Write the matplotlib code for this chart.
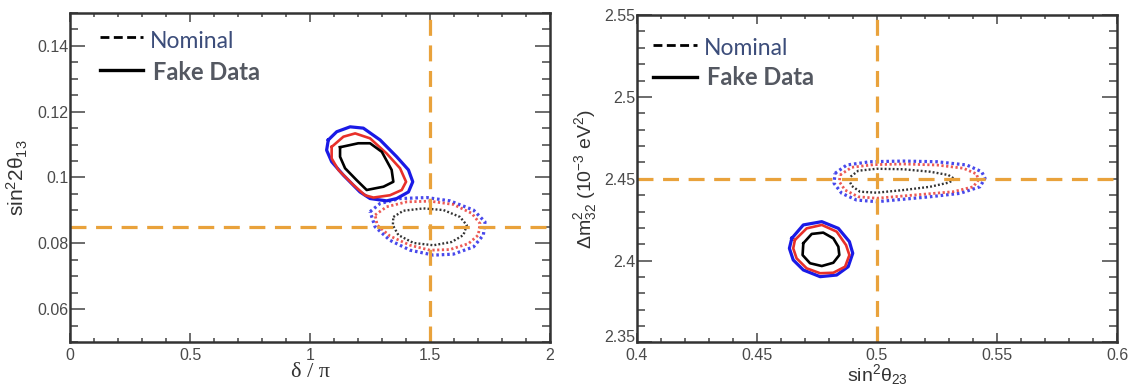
import numpy as np
import matplotlib.pyplot as plt
import matplotlib.transforms as mtransforms
from matplotlib.ticker import MultipleLocator

# true values (orange reference lines)
dcp_true, s13_true = 1.5, 0.085
s23_true, dm32_true = 0.5, 2.45

# --- left panel: delta/pi vs sin^2 2theta13 ---
fake_l_blue_x = [1.076, 1.111, 1.167, 1.222, 1.292, 1.361, 1.410, 1.428, 1.410, 1.361, 1.319, 1.250, 1.208, 1.139, 1.090, 1.069]
fake_l_blue_y = [0.1114, 0.1139, 0.1154, 0.1150, 0.1114, 0.1063, 0.1023, 0.0987, 0.0956, 0.0936, 0.0929, 0.0936, 0.0956, 0.1007, 0.1048, 0.1083]
fake_l_red_x = [1.090, 1.139, 1.188, 1.250, 1.319, 1.375, 1.400, 1.382, 1.333, 1.264, 1.229, 1.181, 1.118, 1.090]
fake_l_red_y = [0.1093, 0.1124, 0.1134, 0.1119, 0.1073, 0.1028, 0.0987, 0.0962, 0.0946, 0.0939, 0.0946, 0.0977, 0.1023, 0.1058]
fake_l_black_x = [1.125, 1.201, 1.250, 1.299, 1.340, 1.347, 1.306, 1.236, 1.194, 1.146, 1.125]
fake_l_black_y = [0.1092, 0.1104, 0.1104, 0.1078, 0.1023, 0.0987, 0.0972, 0.0962, 0.0992, 0.1028, 0.1063]

nom_l_blue_x = [1.250, 1.292, 1.375, 1.486, 1.583, 1.681, 1.729, 1.722, 1.681, 1.597, 1.514, 1.417, 1.333, 1.271]
nom_l_blue_y = [0.0896, 0.0921, 0.0936, 0.0939, 0.0929, 0.0901, 0.0865, 0.0825, 0.0789, 0.0767, 0.0764, 0.0779, 0.0809, 0.0850]
nom_l_red_x = [1.271, 1.319, 1.403, 1.500, 1.597, 1.674, 1.708, 1.701, 1.660, 1.583, 1.500, 1.417, 1.333, 1.280]
nom_l_red_y = [0.0886, 0.0911, 0.0926, 0.0928, 0.0918, 0.0891, 0.0860, 0.0825, 0.0799, 0.0781, 0.0779, 0.0794, 0.0822, 0.0855]
nom_l_black_x = [1.347, 1.389, 1.472, 1.556, 1.625, 1.653, 1.639, 1.590, 1.514, 1.431, 1.368, 1.345]
nom_l_black_y = [0.0880, 0.0899, 0.0906, 0.0901, 0.0880, 0.0855, 0.0825, 0.0804, 0.0794, 0.0801, 0.0825, 0.0855]

# --- right panel: sin^2 theta23 vs dm2_32 ---
fake_r_blue_x = [0.4645, 0.4693, 0.4770, 0.4839, 0.4885, 0.4899, 0.4880, 0.4832, 0.4763, 0.4693, 0.4651, 0.4635]
fake_r_blue_y = [2.4136, 2.4218, 2.4238, 2.4197, 2.4116, 2.4045, 2.3963, 2.3912, 2.3902, 2.3943, 2.4004, 2.4075]
fake_r_red_x = [0.4658, 0.4707, 0.4770, 0.4832, 0.4871, 0.4885, 0.4867, 0.4818, 0.4763, 0.4707, 0.4665, 0.4651]
fake_r_red_y = [2.4126, 2.4197, 2.4218, 2.4177, 2.4095, 2.4034, 2.3963, 2.3926, 2.3923, 2.3953, 2.4014, 2.4075]
fake_r_black_x = [0.4693, 0.4728, 0.4776, 0.4818, 0.4839, 0.4843, 0.4818, 0.4770, 0.4721, 0.4690]
fake_r_black_y = [2.4106, 2.4163, 2.4171, 2.4136, 2.4085, 2.4034, 2.3987, 2.3967, 2.3984, 2.4034]

nom_r_blue_x = [0.4825, 0.4874, 0.4971, 0.5110, 0.5249, 0.5374, 0.5436, 0.5450, 0.5429, 0.5346, 0.5221, 0.5110, 0.4999, 0.4915, 0.4853, 0.4821]
nom_r_blue_y = [2.4533, 2.4584, 2.4604, 2.4608, 2.4604, 2.4584, 2.4543, 2.4503, 2.4451, 2.4411, 2.4390, 2.4375, 2.4360, 2.4370, 2.4411, 2.4472]
nom_r_red_x = [0.4846, 0.4895, 0.4985, 0.5110, 0.5249, 0.5360, 0.5415, 0.5422, 0.5401, 0.5318, 0.5207, 0.5110, 0.4999, 0.4922, 0.4867, 0.4843]
nom_r_red_y = [2.4523, 2.4570, 2.4586, 2.4590, 2.4584, 2.4564, 2.4529, 2.4492, 2.4451, 2.4421, 2.4407, 2.4395, 2.4381, 2.4390, 2.4431, 2.4482]
nom_r_black_x = [0.4890, 0.4922, 0.4999, 0.5110, 0.5221, 0.5297, 0.5325, 0.5297, 0.5221, 0.5110, 0.4999, 0.4929, 0.4895, 0.4885]
nom_r_black_y = [2.4513, 2.4549, 2.4561, 2.4558, 2.4543, 2.4523, 2.4497, 2.4476, 2.4451, 2.4431, 2.4415, 2.4421, 2.4456, 2.4488]

BLUE = '#1a1ae6'
RED = '#e8302a'
ORANGE = '#e9a23b'
TICK_COL = '#4a4a4a'


def closed(x, y):
    return list(x) + [x[0]], list(y) + [y[0]]


def draw_contours(ax, fake, nominal):
    for (x, y), c, lw in zip(fake, [BLUE, RED, 'black'], [2.3, 1.9, 1.9]):
        xx, yy = closed(x, y)
        ax.plot(xx, yy, color=c, lw=lw, solid_joinstyle='round')
    for (x, y), c, lw in zip(nominal, [BLUE, RED, 'black'], [2.3, 2.0, 1.7]):
        xx, yy = closed(x, y)
        ax.plot(xx, yy, color=c, lw=lw, ls=(0, (0.8, 0.9)), alpha=0.8)


def style_axes(ax, xmaj, xmin, ymaj, ymin):
    ax.xaxis.set_major_locator(MultipleLocator(xmaj))
    ax.xaxis.set_minor_locator(MultipleLocator(xmin))
    ax.yaxis.set_major_locator(MultipleLocator(ymaj))
    ax.yaxis.set_minor_locator(MultipleLocator(ymin))
    ax.xaxis.set_major_formatter(plt.FuncFormatter(lambda v, p: f'{v:g}'))
    ax.yaxis.set_major_formatter(plt.FuncFormatter(lambda v, p: f'{v:g}'))
    ax.tick_params(axis='both', which='both', direction='in', top=True, right=True,
                   colors='#444444', labelcolor=TICK_COL, labelsize=11.5, width=1.1)
    ax.tick_params(axis='x', which='major', length=6.5, pad=4)
    ax.tick_params(axis='x', which='minor', length=3.2)
    ax.tick_params(axis='y', which='major', length=11, pad=1)
    ax.tick_params(axis='y', which='minor', length=5.8)
    for s in ax.spines.values():
        s.set_linewidth(1.8)
        s.set_color('#333333')


def legend(ax, x0, x1, ytop, ybot, tx, ty_nom, ty_fake):
    ax.plot([x0, x1], [ytop, ytop], transform=ax.transAxes, color='black', lw=2.0, ls=(0, (3.2, 1.6)))
    ax.plot([x0, x1], [ybot, ybot], transform=ax.transAxes, color='black', lw=2.4)
    ax.text(tx, ty_nom, 'Nominal', transform=ax.transAxes, va='center', ha='left',
            fontsize=16.5, color='#3c4d7a', family='Lato')
    ax.text(tx + 0.005, ty_fake, 'Fake Data', transform=ax.transAxes, va='center', ha='left',
            fontsize=17, color='#545861', family='Lato', fontweight='bold')


plt.rcParams['font.family'] = ['Liberation Sans', 'DejaVu Sans']
plt.rcParams['mathtext.fontset'] = 'custom'
plt.rcParams['mathtext.rm'] = 'Liberation Sans'
plt.rcParams['mathtext.it'] = 'Liberation Sans'
plt.rcParams['mathtext.bf'] = 'Liberation Sans:bold'

fig = plt.figure(figsize=(11.33, 3.9), dpi=100)

axL = fig.add_axes([0.0618, 0.1231, 0.4237, 0.8436])
draw_contours(axL,
              [(fake_l_blue_x, fake_l_blue_y), (fake_l_red_x, fake_l_red_y), (fake_l_black_x, fake_l_black_y)],
              [(nom_l_blue_x, nom_l_blue_y), (nom_l_red_x, nom_l_red_y), (nom_l_black_x, nom_l_black_y)])
axL.axvline(dcp_true, color=ORANGE, lw=2.3, ls=(0, (5, 3)), ymax=1.01, clip_on=False)
axL.axhline(s13_true, color=ORANGE, lw=2.3, ls=(0, (5, 3)))
axL.set_xlim(0, 2)
axL.set_ylim(0.05, 0.15)
style_axes(axL, 0.5, 0.1, 0.02, 0.005)
axL.set_yticks([0.06, 0.08, 0.1, 0.12, 0.14])
axL.set_xlabel('δ / π', fontsize=16, family='Liberation Serif', color='#333333', labelpad=0)
axL.set_ylabel(r'sin$^{\mathregular{2}}$2θ$_{\mathregular{13}}$', fontsize=15, color='#333333', labelpad=5)
legend(axL, 0.0625, 0.152, 0.928, 0.827, 0.167, 0.914, 0.818)

axR = fig.add_axes([0.5622, 0.1218, 0.4237, 0.8397])
draw_contours(axR,
              [(fake_r_blue_x, fake_r_blue_y), (fake_r_red_x, fake_r_red_y), (fake_r_black_x, fake_r_black_y)],
              [(nom_r_blue_x, nom_r_blue_y), (nom_r_red_x, nom_r_red_y), (nom_r_black_x, nom_r_black_y)])
axR.axvline(s23_true, color=ORANGE, lw=2.3, ls=(0, (5, 3)), ymax=1.01, clip_on=False)
axR.axhline(dm32_true, color=ORANGE, lw=2.3, ls=(0, (5, 3)))
axR.set_xlim(0.4, 0.6)
axR.set_ylim(2.35, 2.55)
style_axes(axR, 0.05, 0.01, 0.05, 0.01)
axR.set_xlabel(r'sin$^{\mathregular{2}}$θ$_{\mathregular{23}}$', fontsize=14, color='#333333', labelpad=-1)
axR.set_ylabel(r'Δm$^{\mathregular{2}}_{\mathregular{32}}$ (10$^{\mathregular{-3}}$ eV$^{\mathregular{2}}$)',
               fontsize=14, color='#333333', labelpad=4)
legend(axR, 0.033, 0.125, 0.908, 0.811, 0.140, 0.899, 0.808)

# lift the bottom y label a little so it sits just above "0.4", as in the original
fig.canvas.draw()
for lab in axR.get_yticklabels():
    if lab.get_text() == '2.35':
        lab.set_transform(lab.get_transform() + mtransforms.ScaledTranslation(0, 5 / 72, fig.dpi_scale_trans))

fig.savefig('out.png', dpi=100)
